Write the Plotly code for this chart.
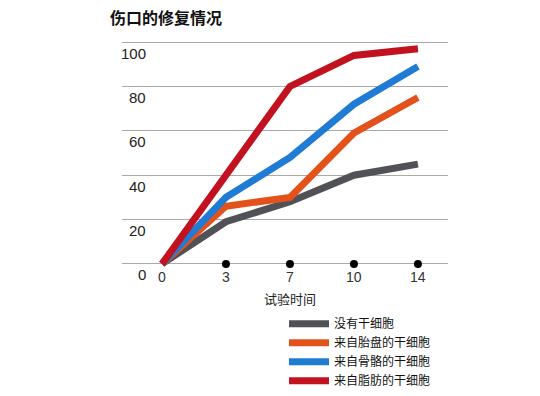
import plotly.graph_objects as go

# Data
days = ["0", "3", "7", "10", "14"]
x_idx = [0, 1, 2, 3, 4]
series_names = ["没有干细胞", "来自胎盘的干细胞", "来自骨骼的干细胞", "来自脂肪的干细胞"]
no_cells = [0, 19, 28, 40, 45]
placenta = [0, 26, 30, 59, 75]
bone = [0, 30, 48, 72, 89]
fat = [0, 40, 80, 94, 97]
series_colors = ["#505257", "#e4521c", "#1f7bd3", "#c3121f"]
y_ticks = [0, 20, 40, 60, 80, 100]

W, H = 540, 396
FONT = "Liberation Sans, Arial, Noto Sans CJK SC, sans-serif"
CJK = "Noto Sans CJK SC, sans-serif"

fig = go.Figure()
for name, vals, col in zip(series_names, [no_cells, placenta, bone, fat], series_colors):
    fig.add_trace(go.Scatter(
        x=x_idx, y=vals, mode="lines", name=name,
        line=dict(color=col, width=7),
    ))

# tick dots on the zero line
fig.add_trace(go.Scatter(
    x=x_idx[1:], y=[0] * (len(x_idx) - 1), mode="markers",
    marker=dict(color="black", size=8), showlegend=False, hoverinfo="skip",
    cliponaxis=False,
))

annotations = []
for v in y_ticks:
    annotations.append(dict(
        x=148 / W, xref="paper", y=v, yref="y", xanchor="right", yanchor="middle",
        yshift=-11, text=str(v), showarrow=False,
        font=dict(family=FONT, size=15, color="#222"),
    ))
for xi, d in zip(x_idx, days):
    annotations.append(dict(
        x=xi, xref="x", y=0, yref="y", xanchor="center", yanchor="middle",
        yshift=-13, text=d, showarrow=False,
        font=dict(family=FONT, size=14, color="#333"),
    ))
annotations.append(dict(
    x=2, xref="x", y=0, yref="y", xanchor="center", yanchor="middle",
    yshift=-35, text="试验时间", showarrow=False,
    font=dict(family=CJK, size=13, color="#222"),
))

fig.update_layout(
    width=W, height=H,
    paper_bgcolor="white", plot_bgcolor="white",
    margin=dict(l=0, r=0, t=31, b=121, autoexpand=False),
    title=dict(text="<b>伤口的修复情况</b>", x=110 / W, xanchor="left",
               y=1 - 18 / H, yanchor="middle", yref="container",
               font=dict(family=CJK, size=16, color="#111")),
    xaxis=dict(domain=[122 / W, 448 / W], range=[-0.625, 4.47],
               showgrid=False, zeroline=False, showticklabels=False, showline=False),
    yaxis=dict(range=[-5, 105], tickvals=y_ticks, showticklabels=False,
               showgrid=True, gridcolor="#aaaaaa", gridwidth=1, zeroline=False),
    legend=dict(x=284 / W, xanchor="left", y=-0.14, yanchor="top",
                font=dict(family=CJK, size=12, color="#111"),
                bgcolor="rgba(0,0,0,0)", tracegroupgap=0, itemwidth=40),
    annotations=annotations,
    showlegend=True,
)

fig.write_html("out.html", config={"displayModeBar": False},
               post_script="document.body.style.margin='0';document.body.style.overflow='hidden';")
